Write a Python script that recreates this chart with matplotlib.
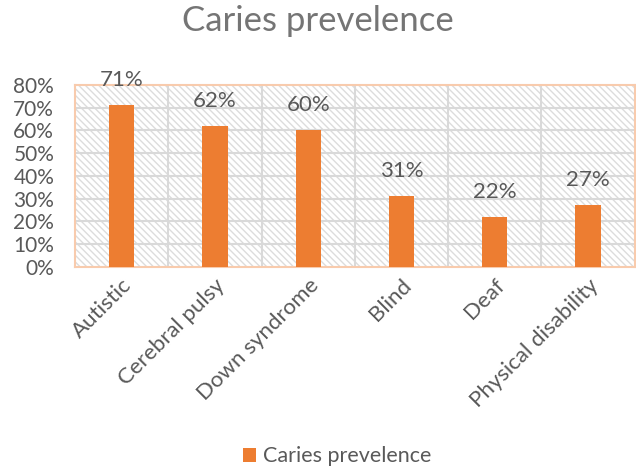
import numpy as np
import matplotlib.pyplot as plt
from matplotlib.patches import Rectangle
from matplotlib.ticker import PercentFormatter

plt.rcParams['font.family'] = ['Lato', 'DejaVu Sans']
plt.rcParams['hatch.color'] = '#d9d9d9'
plt.rcParams['hatch.linewidth'] = 1.0

############################################
# data
categories = ['Autistic', 'Cerebral pulsy', 'Down syndrome', 'Blind', 'Deaf',
              'Physical disability']
prevalence = [71, 62, 60, 31, 22, 27]
series_name = 'Caries prevelence'

bar_color = '#ed7d31'
text_gray = '#595959'

#############################################
## Plotting Data
fig = plt.figure(figsize=(6.36, 4.74), dpi=100)
ax = fig.add_axes([0.118, 0.437, 0.880, 0.384])

x = np.arange(len(categories))
bars = ax.bar(x, prevalence, width=0.27, color=bar_color, zorder=3,
              label=series_name)

# hatched background
bg = Rectangle((0, 0), 1, 1, transform=ax.transAxes, facecolor='white',
               edgecolor='#dcdcdc', hatch='\\\\\\\\\\', linewidth=0, zorder=0)
ax.add_patch(bg)

ax.set_xlim(-0.5, len(categories) - 0.5)
ax.set_ylim(0, 80)
ax.set_yticks(np.arange(0, 81, 10))
ax.yaxis.set_major_formatter(PercentFormatter(decimals=0))

# grid lines
for yv in np.arange(10, 80, 10):
    ax.axhline(yv, color='#d9d9d9', lw=1.5, zorder=1)
for xv in np.arange(0.5, len(categories) - 0.5, 1):
    ax.axvline(xv, color='#d9d9d9', lw=1.5, zorder=1)

for s in ['left', 'top', 'bottom', 'right']:
    ax.spines[s].set_color('#f8cbad')
    ax.spines[s].set_linewidth(1.5)

ax.tick_params(axis='both', length=0, colors=text_gray, labelsize=15)
ax.tick_params(axis='y', pad=15)
ax.tick_params(axis='x', pad=6)
ax.set_xticks(x)
ax.set_xticklabels(categories, rotation=45, ha='right', rotation_mode='anchor',
                   fontsize=16, color=text_gray)

for xi, v in zip(x, prevalence):
    ax.annotate('%d%%' % v, (xi, v), xytext=(0, 11), textcoords='offset points',
                ha='center', va='bottom', fontsize=16, color=text_gray,
                annotation_clip=False)

fig.suptitle(series_name, x=0.5, y=0.99, fontsize=25, color='#757575')

fig.legend(handles=[bars], labels=[series_name], loc='lower center',
           bbox_to_anchor=(0.53, -0.025), frameon=False, fontsize=15.5,
           handlelength=0.6, handleheight=0.6, handletextpad=0.3,
           labelcolor=text_gray)

fig.savefig('out.png', dpi=100)
